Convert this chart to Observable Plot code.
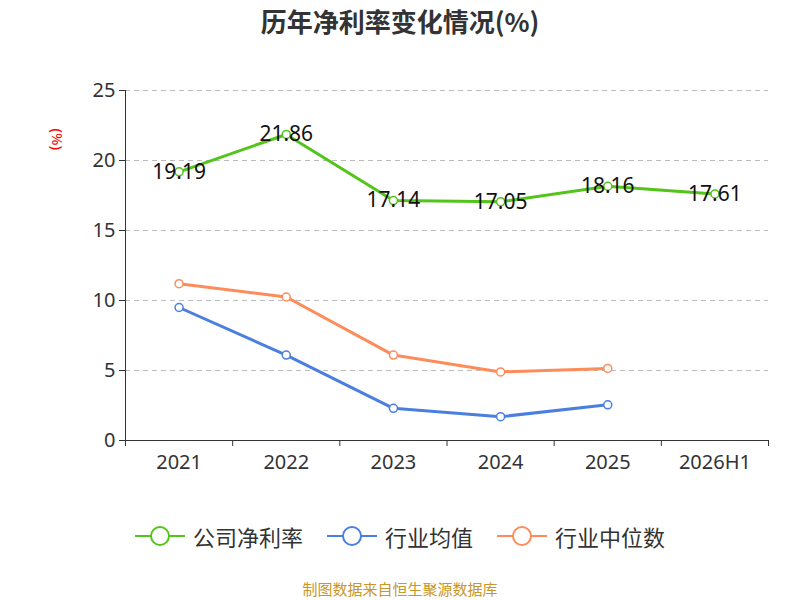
<!DOCTYPE html><html><head><meta charset="utf-8">
<script src="https://cdn.jsdelivr.net/npm/d3@7"></script>
<script src="https://cdn.jsdelivr.net/npm/@observablehq/plot@0.6"></script>
<style>body{margin:0;font-family:"Noto Sans CJK SC","Noto Sans",sans-serif;}#w{position:relative;width:800px;height:600px;}
.t{position:absolute;left:0;width:800px;text-align:center}</style></head><body><div id="w"></div>
<script>
const years=["2021","2022","2023","2024","2025","2026H1"];
const company=[19.19,21.86,17.14,17.05,18.16,17.61];
const industryAvg=[9.5,6.1,2.3,1.7,2.55];
const industryMed=[11.2,10.25,6.1,4.9,5.15];
const names=["公司净利率","行业均值","行业中位数"];
const colors=["#52c41a","#4a7fe0","#fd8c5a"];
const rows=[];
[company,industryAvg,industryMed].forEach((arr,s)=>arr.forEach((v,i)=>rows.push({s:names[s],i:i+0.5,v})));
const comp=rows.filter(d=>d.s===names[0]);
const plot=Plot.plot({width:800,height:600,marginLeft:125,marginRight:32,marginTop:90,marginBottom:160,
 style:{fontFamily:"Noto Sans, sans-serif",color:"#333"},
 x:{domain:[0,6],axis:null},
 y:{domain:[0,25],axis:null},
 color:{domain:names,range:colors},
 marks:[
  Plot.gridY([5,10,15,20,25],{stroke:"#bbb",strokeOpacity:1,strokeDasharray:"5,4"}),
  Plot.ruleX([0],{stroke:"#333"}),
  Plot.ruleY([0],{stroke:"#333"}),
  Plot.axisY([0,5,10,15,20,25],{anchor:"left",tickSize:6,fontSize:20,tickPadding:4,label:null,stroke:"#333"}),
  Plot.axisX([0,1,2,3,4,5,6],{anchor:"bottom",tickSize:6,tickFormat:()=>"",label:null,stroke:"#333"}),
  Plot.axisX([0.5,1.5,2.5,3.5,4.5,5.5],{anchor:"bottom",tickSize:0,tickPadding:14,fontSize:20,tickFormat:d=>years[d-0.5],label:null}),
  Plot.line(rows,{x:"i",y:"v",z:"s",stroke:"s",strokeWidth:3}),
  Plot.dot(rows,{x:"i",y:"v",stroke:"s",fill:"white",r:4,strokeWidth:1.5}),
  Plot.text(comp,{x:"i",y:"v",text:d=>d.v.toFixed(2),fontSize:21,fill:"#111"}),
  Plot.text(["(%)"],{frameAnchor:"top-left",dx:-63,dy:38,rotate:90,fill:"red",fontSize:15})
 ]});
const w=document.getElementById("w");w.appendChild(plot);
plot.style.position="absolute";plot.style.left="0";plot.style.top="0";
const t=document.createElement("div");t.className="t";t.style.top="2px";t.style.fontSize="26px";t.style.fontWeight="bold";t.style.color="#333";t.textContent="历年净利率变化情况(%)";w.appendChild(t);
const lg=document.createElement("div");lg.className="t";lg.style.top="520px";lg.style.fontSize="22px";lg.style.color="#333";
lg.innerHTML=names.map((n,k)=>`<span style="display:inline-flex;align-items:center;margin:0 12px"><svg width="50" height="24"><line x1="0" x2="50" y1="12" y2="12" stroke="${colors[k]}" stroke-width="2"/><circle cx="25" cy="12" r="9" fill="white" stroke="${colors[k]}" stroke-width="2"/></svg><span style="margin-left:8px">${n}</span></span>`).join("");
w.appendChild(lg);
const c=document.createElement("div");c.className="t";c.style.top="578px";c.style.fontSize="15px";c.style.color="#c8962a";c.textContent="制图数据来自恒生聚源数据库";w.appendChild(c);
</script></body></html>
